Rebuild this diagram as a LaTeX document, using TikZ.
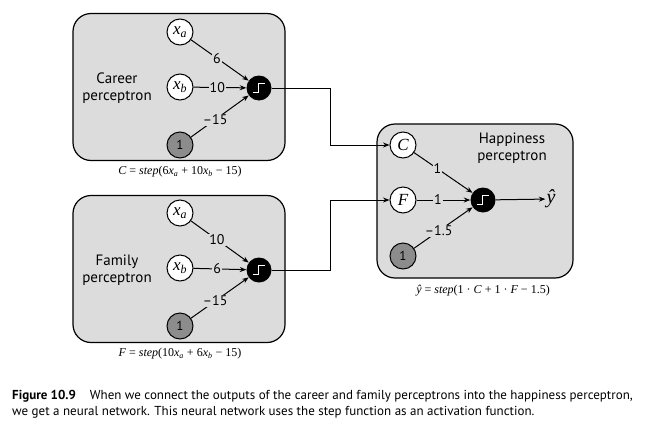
\documentclass[tikz,border=0pt]{standalone}
\usepackage{fontspec}
\setmainfont{Liberation Serif}
\newfontfamily\capfont{PT Sans}
\usetikzlibrary{arrows.meta}
\definecolor{boxgray}{HTML}{DCDCDC}
\definecolor{biasgray}{HTML}{8C8C8C}
\newcommand\stepglyph[1]{\draw[white,line width=1.4pt] ([shift={(-6.5,4.5)}]#1.center) -- ++(6,0) -- ++(0,-9) -- ++(6,0);}
\begin{document}
\begin{tikzpicture}[x=1pt,y=-1pt,
 box/.style={draw=black, line width=1.2pt, fill=boxgray, rounded corners=18pt},
 inp/.style={circle, draw, fill=white, minimum size=26pt, inner sep=0pt, line width=1pt, font=\itshape\fontsize{17}{17}\selectfont},
 bias/.style={inp, fill=biasgray, font=\capfont\fontsize{13}{13}\selectfont},
 act/.style={circle, fill=black, minimum size=25pt, inner sep=0pt},
 wt/.style={fill=boxgray, inner sep=1pt, font=\capfont\fontsize{14}{14}\selectfont},
 con/.style={draw, line width=1pt, -{Stealth[length=6.5pt,width=5pt]}},
 lab/.style={align=center, font=\capfont\fontsize{15}{17}\selectfont},
 frm/.style={font=\fontsize{12}{12}\selectfont},
]
\useasboundingbox[fill=white] (0,0) rectangle (647,434);
% boxes
\node[box, minimum width=212pt, minimum height=147pt, inner sep=0pt] (cbox) at (179,87) {};
\node[box, minimum width=212pt, minimum height=147pt, inner sep=0pt] (fbox) at (179,269) {};
\node[box, minimum width=196pt, minimum height=154pt, inner sep=0pt] (hbox) at (475,201) {};
% career
\node[lab] (clab) at (117,88) {Career\\perceptron};
\node[inp] (ca) at (180,32) {x\textsubscript{a}};
\node[inp] (cb) at (180,87) {x\textsubscript{b}};
\node[bias] (c1) at (180,145) {1};
\node[act] (cs) at (259,88) {};
\stepglyph{cs}
\draw[con] (ca) -- node[wt, pos=0.45] {6} (cs);
\draw[con] (cb) -- node[wt, pos=0.45] {10} (cs);
\draw[con] (c1) -- node[wt, pos=0.42] {–15} (cs);
\node[frm] (cf) at (180,172) {\textit{C} = \textit{step}(6\textit{x}\textsubscript{\textit{a}} + 10\textit{x}\textsubscript{\textit{b}} − 15)};
% family
\node[lab] (flab) at (117,270) {Family\\perceptron};
\node[inp] (fa) at (180,213) {x\textsubscript{a}};
\node[inp] (fb) at (180,268) {x\textsubscript{b}};
\node[bias] (f1) at (180,326) {1};
\node[act] (fs) at (259,270) {};
\stepglyph{fs}
\draw[con] (fa) -- node[wt, pos=0.45] {10} (fs);
\draw[con] (fb) -- node[wt, pos=0.45] {6} (fs);
\draw[con] (f1) -- node[wt, pos=0.42] {–15} (fs);
\node[frm] (ff) at (180,354) {\textit{F} = \textit{step}(10\textit{x}\textsubscript{\textit{a}} + 6\textit{x}\textsubscript{\textit{b}} − 15)};
% happiness
\node[lab] (hlab) at (512,148) {Happiness\\perceptron};
\node[inp] (hc) at (403,145) {C};
\node[inp] (hf) at (403,200) {F};
\node[bias] (h1) at (403,256) {1};
\node[act] (hs) at (483,200) {};
\stepglyph{hs}
\node[font=\itshape\fontsize{20}{20}\selectfont, inner sep=1pt] (y) at (551,199) {ŷ};
\draw[con] (hc) -- node[wt, pos=0.4] {1} (hs);
\draw[con] (hf) -- node[wt, pos=0.4] {1} (hs);
\draw[con] (h1) -- node[wt, pos=0.42] {–1.5} (hs);
\draw[con] (hs) -- (y);
\node[frm] (hfrm) at (483,291) {\textit{ŷ} = \textit{step}(1 · \textit{C} + 1 · \textit{F} − 1.5)};
% interconnections
\draw[con] (cs) -- (330,88) |- (hc);
\draw[con] (fs) -- (330,270) |- (hf);
% caption
\node[anchor=north west, align=left, inner sep=0pt, font=\capfont\fontsize{13}{16}\selectfont] (cap) at (12,390)
 {\textbf{Figure 10.9}\hspace{0.8em} When we connect the outputs of the career and family perceptrons into the happiness perceptron,\\we get a neural network. This neural network uses the step function as an activation function.};
\end{tikzpicture}
\end{document}
